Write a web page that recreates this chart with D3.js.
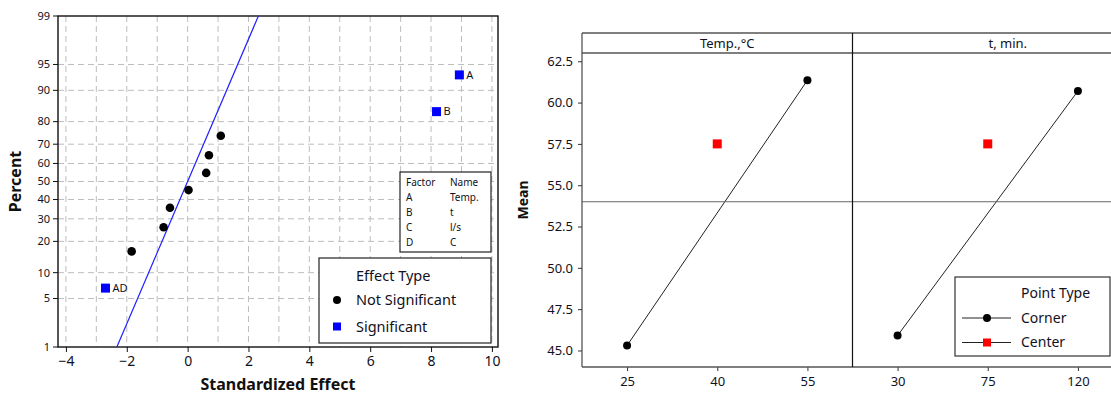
<!DOCTYPE html>
<html>
<head>
<meta charset="utf-8">
<script src="https://d3js.org/d3.v7.min.js"></script>
<style>
html, body { margin: 0; padding: 0; background: #fff; }
svg { display: block; font-family: 'Noto Sans', sans-serif; }
.tick text { fill: #111122; }
</style>
</head>
<body>
<script>
// ---- normal probability plot data ----
var effectNames   = ["AD", "", "", "", "", "", "", "", "B", "A"];
var effectValues  = [-2.70, -1.84, -0.79, -0.58, 0.03, 0.61, 0.70, 1.09, 8.18, 8.93];
var effectPercent = [6.7, 16.3, 26.0, 35.6, 45.2, 54.8, 64.4, 74.0, 83.7, 93.3];
var effectSignif  = [true, false, false, false, false, false, false, false, true, true];
var percentTicks  = [1, 5, 10, 20, 30, 40, 50, 60, 70, 80, 90, 95, 99];
var effectTicks   = [-4, -2, 0, 2, 4, 6, 8, 10];
var fitLine       = [[-2.326, 1], [2.326, 99]];  // effect, percent
var factorRows    = [["Factor", "Name"], ["A", "Temp."], ["B", "t"], ["C", "l/s"], ["D", "C"]];

// ---- main effects data ----
var panelNames    = ["Temp.,°C", "t, min."];
var panelLevels   = [[25, 40, 55], [30, 75, 120]];
var cornerMeans   = [[45.3, 61.35], [45.9, 60.7]];
var centerMeans   = [57.5, 57.5];
var grandMean     = 54.0;
var meanTicks     = [45, 47.5, 50, 52.5, 55, 57.5, 60, 62.5];

var W = 1111, H = 394;
var txt = "#111122";
var svg = d3.select("body").append("svg").attr("width", W).attr("height", H);

// inverse normal cdf (Acklam)
function probit(p) {
  var a = [-39.69683028665376, 220.9460984245205, -275.9285104469687, 138.3577518672690, -30.66479806614716, 2.506628277459239];
  var b = [-54.47609879822406, 161.5858368580409, -155.6989798598866, 66.80131188771972, -13.28068155288572];
  var c = [-0.007784894002430293, -0.3223964580411365, -2.400758277161838, -2.549732539343734, 4.374664141464968, 2.938163982698783];
  var d = [0.007784695709041462, 0.3224671290700398, 2.445134137142996, 3.754408661907416];
  var q, r;
  if (p < 0.02425) {
    q = Math.sqrt(-2 * Math.log(p));
    return (((((c[0]*q+c[1])*q+c[2])*q+c[3])*q+c[4])*q+c[5]) / ((((d[0]*q+d[1])*q+d[2])*q+d[3])*q+1);
  } else if (p > 1 - 0.02425) {
    q = Math.sqrt(-2 * Math.log(1 - p));
    return -(((((c[0]*q+c[1])*q+c[2])*q+c[3])*q+c[4])*q+c[5]) / ((((d[0]*q+d[1])*q+d[2])*q+d[3])*q+1);
  }
  q = p - 0.5; r = q * q;
  return (((((a[0]*r+a[1])*r+a[2])*r+a[3])*r+a[4])*r+a[5])*q / (((((b[0]*r+b[1])*r+b[2])*r+b[3])*r+b[4])*r+1);
}

// ================= left: normal plot =================
var L = {left: 58, right: 498, top: 16, bottom: 347};
var x = d3.scaleLinear().domain([-4.26, 10.2]).range([L.left, L.right]);
var zs = d3.scaleLinear().domain([probit(0.01), probit(0.99)]).range([L.bottom, L.top]);
var y = function(p) { return zs(probit(p / 100)); };

var left = svg.append("g");

// grid
left.append("g").selectAll("line").data(d3.range(-4, 11, 1)).enter().append("line")
  .attr("x1", d => x(d)).attr("x2", d => x(d)).attr("y1", L.top).attr("y2", L.bottom)
  .attr("stroke", "#bdbdbd").attr("stroke-dasharray", "6,4");
left.append("g").selectAll("line").data(percentTicks.slice(1, -1)).enter().append("line")
  .attr("x1", L.left).attr("x2", L.right).attr("y1", d => y(d)).attr("y2", d => y(d))
  .attr("stroke", "#bdbdbd").attr("stroke-dasharray", "6,4");

// frame
left.append("rect").attr("x", L.left).attr("y", L.top)
  .attr("width", L.right - L.left).attr("height", L.bottom - L.top)
  .attr("fill", "none").attr("stroke", "#111").attr("stroke-width", 1.4);

// y axis
var yAxisG = left.append("g").attr("transform", "translate(" + L.left + ",0)");
yAxisG.selectAll("g").data(percentTicks).enter().append("g").attr("class", "tick")
  .each(function(d) {
    var g = d3.select(this);
    g.append("line").attr("x1", -5).attr("x2", 0).attr("y1", y(d)).attr("y2", y(d)).attr("stroke", "#111");
    g.append("text").attr("x", -8).attr("y", y(d)).attr("dy", "0.35em")
      .attr("text-anchor", "end").attr("font-size", 11).text(d);
  });

// x axis
var xAxis = d3.axisBottom(x).tickValues(effectTicks).tickSize(5).tickPadding(4);
left.append("g").attr("transform", "translate(0," + L.bottom + ")").call(xAxis)
  .call(g => g.select(".domain").remove())
  .call(g => g.selectAll("line").attr("stroke", "#111"))
  .call(g => g.selectAll("text").attr("font-size", 14).attr("font-family", "'Noto Sans', sans-serif"));

// fitted line
left.append("line")
  .attr("x1", x(fitLine[0][0])).attr("y1", y(fitLine[0][1]))
  .attr("x2", x(fitLine[1][0])).attr("y2", y(fitLine[1][1]))
  .attr("stroke", "#2020ff").attr("stroke-width", 1.2);

// points
var pts = effectValues.map((v, i) => ({v: v, p: effectPercent[i], s: effectSignif[i], n: effectNames[i]}));
left.selectAll("circle.ns").data(pts.filter(d => !d.s)).enter().append("circle")
  .attr("cx", d => x(d.v)).attr("cy", d => y(d.p)).attr("r", 4.3).attr("fill", "#000");
var sig = left.selectAll("g.sig").data(pts.filter(d => d.s)).enter().append("g");
sig.append("rect").attr("x", d => x(d.v) - 4.5).attr("y", d => y(d.p) - 4.5)
  .attr("width", 9).attr("height", 9).attr("fill", "#0000ff");
sig.append("text").attr("x", d => x(d.v) + 7).attr("y", d => y(d.p)).attr("dy", "0.35em")
  .attr("font-size", 11).attr("fill", txt).text(d => d.n);

// axis titles
left.append("text").attr("transform", "translate(21," + ((L.top + L.bottom) / 2) + ") rotate(-90)")
  .attr("text-anchor", "middle").attr("font-size", 16).attr("font-weight", "bold").attr("fill", "#111")
  .text("Percent");
left.append("text").attr("x", (L.left + L.right) / 2) .attr("y", 390)
  .attr("text-anchor", "middle").attr("font-size", 16).attr("font-weight", "bold").attr("fill", "#111")
  .text("Standardized Effect");

// factor table
var ft = left.append("g").attr("transform", "translate(400,172)");
ft.append("rect").attr("width", 91).attr("height", 80).attr("fill", "#fff").attr("stroke", "#222").attr("stroke-width", 1.2);
factorRows.forEach(function(r, i) {
  ft.append("text").attr("x", 6).attr("y", 14 + i * 15).attr("font-size", 10).attr("fill", txt).text(r[0]);
  ft.append("text").attr("x", 50).attr("y", 14 + i * 15).attr("font-size", 10).attr("fill", txt).text(r[1]);
});

// effect type legend
var el = left.append("g").attr("transform", "translate(319,258)");
el.append("rect").attr("width", 172).attr("height", 85).attr("fill", "#fff").attr("stroke", "#222").attr("stroke-width", 1.2);
el.append("text").attr("x", 37).attr("y", 18).attr("dy", "0.35em").attr("font-size", 14.5).attr("fill", txt).text("Effect Type");
el.append("circle").attr("cx", 18).attr("cy", 42).attr("r", 4).attr("fill", "#000");
el.append("text").attr("x", 37).attr("y", 42).attr("dy", "0.35em").attr("font-size", 14.5).attr("fill", txt).text("Not Significant");
el.append("rect").attr("x", 14).attr("y", 64.5).attr("width", 8).attr("height", 8).attr("fill", "#0000ff");
el.append("text").attr("x", 37).attr("y", 68.5).attr("dy", "0.35em").attr("font-size", 14.5).attr("fill", txt).text("Significant");

// ================= right: main effects =================
var R = {left: 582, top: 33, strip: 53, bottom: 367, pw: 270.5};
var yM = d3.scaleLinear().domain([44, 63]).range([R.bottom, R.strip]);
var right = svg.append("g");
var labelShift = [10, 20];

panelLevels.forEach(function(lv, i) {
  var x0 = R.left + i * R.pw;
  var step = lv[1] - lv[0];
  var xs = d3.scaleLinear().domain([lv[0] - step * 0.5, lv[2] + step * 0.5]).range([x0, x0 + R.pw]);
  var g = right.append("g");

  // strip
  g.append("text").attr("x", x0 + R.pw / 2 + labelShift[i]).attr("y", (R.top + R.strip) / 2).attr("dy", "0.35em")
    .attr("text-anchor", "middle").attr("font-size", 13).attr("fill", txt).text(panelNames[i]);

  // x axis
  g.append("g").attr("transform", "translate(0," + R.bottom + ")")
    .call(d3.axisBottom(xs).tickValues(lv).tickSize(4).tickPadding(6).tickFormat(d3.format("d")))
    .call(a => a.select(".domain").remove())
    .call(a => a.selectAll("line").attr("stroke", "#333"))
    .call(a => a.selectAll("text").attr("font-size", 13).attr("font-family", "'Noto Sans', sans-serif"));

  // corner line & points
  var corner = [[lv[0], cornerMeans[i][0]], [lv[2], cornerMeans[i][1]]];
  g.append("path").datum(corner)
    .attr("d", d3.line().x(d => xs(d[0])).y(d => yM(d[1])))
    .attr("fill", "none").attr("stroke", "#222").attr("stroke-width", 1);
  g.selectAll("circle").data(corner).enter().append("circle")
    .attr("cx", d => xs(d[0])).attr("cy", d => yM(d[1])).attr("r", 4).attr("fill", "#000");
  g.append("rect").attr("x", xs(lv[1]) - 4.5).attr("y", yM(centerMeans[i]) - 4.5)
    .attr("width", 9).attr("height", 9).attr("fill", "#ff0000");
});

// grand mean reference
right.append("line").attr("x1", R.left).attr("x2", W).attr("y1", yM(grandMean)).attr("y2", yM(grandMean))
  .attr("stroke", "#666").attr("stroke-width", 1);

// frame lines
var frameColor = "#555";
right.append("line").attr("x1", R.left).attr("x2", W).attr("y1", R.top).attr("y2", R.top).attr("stroke", frameColor).attr("stroke-width", 1.3);
right.append("line").attr("x1", R.left).attr("x2", W).attr("y1", R.strip).attr("y2", R.strip).attr("stroke", frameColor).attr("stroke-width", 1.3);
right.append("line").attr("x1", R.left).attr("x2", W).attr("y1", R.bottom).attr("y2", R.bottom).attr("stroke", frameColor).attr("stroke-width", 1.3);
right.append("line").attr("x1", R.left).attr("x2", R.left).attr("y1", R.top).attr("y2", R.bottom).attr("stroke", frameColor).attr("stroke-width", 1.3);
right.append("line").attr("x1", R.left + R.pw).attr("x2", R.left + R.pw).attr("y1", R.top).attr("y2", R.bottom).attr("stroke", "#111").attr("stroke-width", 1.2);

// y axis
right.append("g").attr("transform", "translate(" + R.left + ",0)")
  .call(d3.axisLeft(yM).tickValues(meanTicks).tickSize(4).tickPadding(5).tickFormat(d3.format(".1f")))
  .call(a => a.select(".domain").remove())
  .call(a => a.selectAll("line").attr("stroke", "#333"))
  .call(a => a.selectAll("text").attr("font-size", 13).attr("font-family", "'Noto Sans', sans-serif"));

right.append("text").attr("transform", "translate(528," + ((R.top + R.bottom) / 2) + ") rotate(-90)")
  .attr("text-anchor", "middle").attr("font-size", 14).attr("font-weight", "bold").attr("fill", "#111")
  .text("Mean");

// point type legend
var pl = right.append("g").attr("transform", "translate(955,277)");
pl.append("rect").attr("width", 155).attr("height", 79).attr("fill", "#fff").attr("stroke", "#333").attr("stroke-width", 1.2);
pl.append("text").attr("x", 66).attr("y", 16.5).attr("dy", "0.35em").attr("font-size", 14).attr("fill", txt).text("Point Type");
pl.append("line").attr("x1", 7).attr("x2", 56).attr("y1", 41).attr("y2", 41).attr("stroke", "#222");
pl.append("circle").attr("cx", 32).attr("cy", 41).attr("r", 4).attr("fill", "#000");
pl.append("text").attr("x", 66).attr("y", 41).attr("dy", "0.35em").attr("font-size", 14).attr("fill", txt).text("Corner");
pl.append("line").attr("x1", 7).attr("x2", 56).attr("y1", 65.5).attr("y2", 65.5).attr("stroke", "#222");
pl.append("rect").attr("x", 28).attr("y", 61.5).attr("width", 8).attr("height", 8).attr("fill", "#ff0000");
pl.append("text").attr("x", 66).attr("y", 65.5).attr("dy", "0.35em").attr("font-size", 14).attr("fill", txt).text("Center");
</script>
</body>
</html>
